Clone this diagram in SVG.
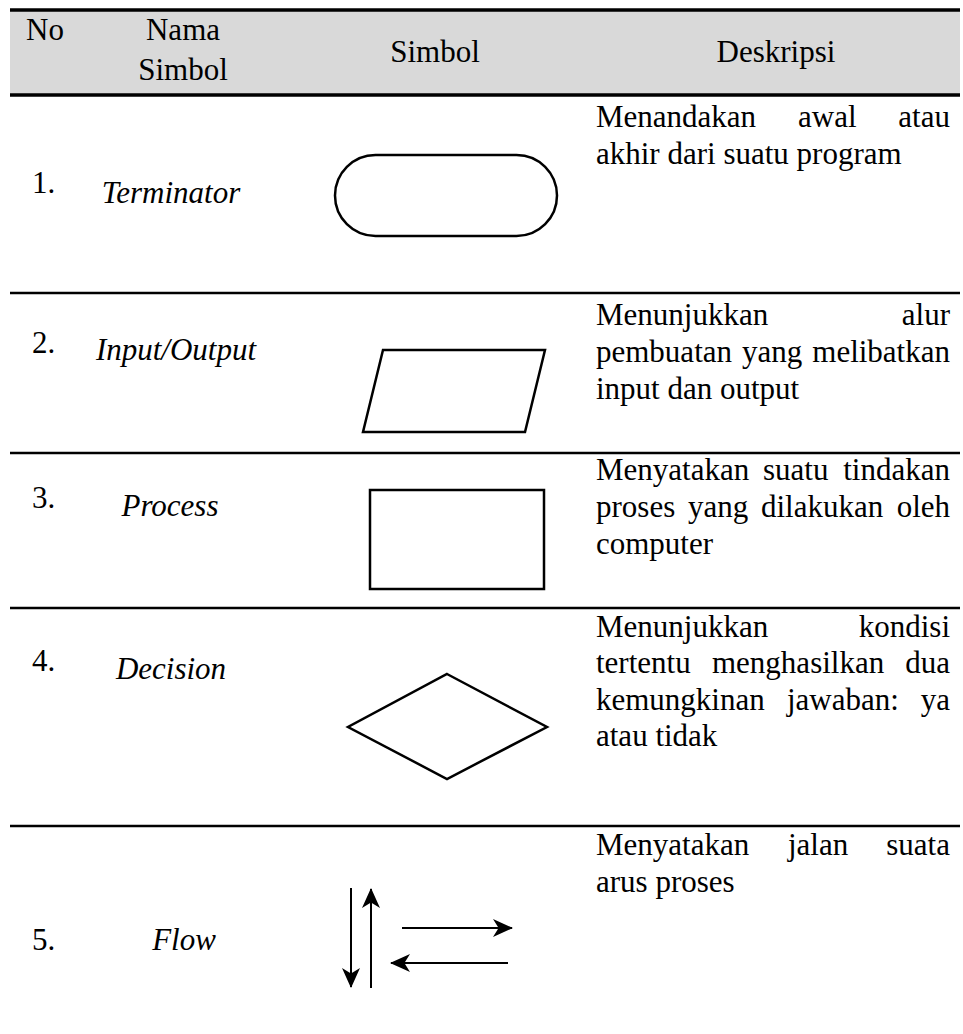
<svg xmlns="http://www.w3.org/2000/svg" width="963" height="1034" viewBox="0 0 963 1034">
<style>
text{font-family:"Liberation Serif","Times New Roman",serif;font-size:31px;fill:#000}
.i{font-style:italic}
.m{text-anchor:middle}
.e{text-anchor:end}
.sh{fill:#fff;stroke:#000;stroke-width:2.5}
.rule{stroke:#000;stroke-width:2.5}
.thick{stroke:#000;stroke-width:3.5}
.ar{stroke:#000;stroke-width:2}
</style>
<defs>
<marker id="ahv" viewBox="0 0 10 10" refX="9.5" refY="5" markerWidth="20" markerHeight="20" markerUnits="userSpaceOnUse" orient="auto">
<path d="M0,0.5 L10,5 L0,9.5 L2.8,5 Z" fill="#000"/>
</marker>
</defs>
<g id="table">
<rect x="10" y="10" width="950" height="85" fill="#d9d9d9"/>
<line class="thick" x1="10" y1="10" x2="960" y2="10"/>
<line class="thick" x1="10" y1="95" x2="960" y2="95"/>
<line class="rule" x1="10" y1="293" x2="960" y2="293"/>
<line class="rule" x1="10" y1="453" x2="960" y2="453"/>
<line class="rule" x1="10" y1="608" x2="960" y2="608"/>
<line class="rule" x1="10" y1="826" x2="960" y2="826"/>
</g>
<g id="header">
<text x="26" y="40">No</text>
<text class="m" x="183" y="40">Nama</text>
<text class="m" x="183" y="80">Simbol</text>
<text class="m" x="435" y="62">Simbol</text>
<text class="m" x="776" y="62">Deskripsi</text>
</g>
<g id="row1">
<text x="32" y="193">1.</text>
<text class="i m" x="171" y="203">Terminator</text>
<rect id="terminator" class="sh" x="335" y="155" width="222" height="81" rx="40.5" ry="40.5"/>
<text x="596" y="127">Menandakan</text><text x="798" y="127">awal</text><text class="e" x="950" y="127">atau</text>
<text x="596" y="164">akhir dari suatu program</text>
</g>
<g id="row2">
<text x="32" y="353">2.</text>
<text class="i m" x="176" y="360">Input/Output</text>
<polygon id="io" class="sh" points="383,350 545,350 525,432 363,432"/>
<text x="596" y="325">Menunjukkan</text><text class="e" x="950" y="325">alur</text>
<text x="596" y="362">pembuatan</text><text x="742" y="362">yang</text><text class="e" x="950" y="362">melibatkan</text>
<text x="596" y="399">input dan output</text>
</g>
<g id="row3">
<text x="32" y="508">3.</text>
<text class="i m" x="170" y="516">Process</text>
<rect id="process" class="sh" x="370" y="490" width="174" height="99"/>
<text x="596" y="480">Menyatakan</text><text x="763" y="480">suatu</text><text class="e" x="950" y="480">tindakan</text>
<text x="596" y="517">proses</text><text x="688" y="517">yang</text><text x="761" y="517">dilakukan</text><text class="e" x="950" y="517">oleh</text>
<text x="596" y="554">computer</text>
</g>
<g id="row4">
<text x="32" y="671">4.</text>
<text class="i m" x="171" y="679">Decision</text>
<polygon id="decision" class="sh" points="447,674 547,727 447,779 348,727"/>
<text x="596" y="637">Menunjukkan</text><text class="e" x="950" y="637">kondisi</text>
<text x="596" y="673">tertentu</text><text x="712" y="673">menghasilkan</text><text class="e" x="950" y="673">dua</text>
<text x="596" y="710">kemungkinan</text><text x="787" y="710">jawaban:</text><text class="e" x="950" y="710">ya</text>
<text x="596" y="746">atau tidak</text>
</g>
<g id="row5">
<text x="32" y="950">5.</text>
<text class="i m" x="184" y="950">Flow</text>
<text x="596" y="855">Menyatakan</text><text x="788" y="855">jalan</text><text class="e" x="950" y="855">suata</text>
<text x="596" y="892">arus proses</text>
</g>
<g id="connectors">
<line class="ar" x1="351" y1="888" x2="351" y2="987" marker-end="url(#ahv)"/>
<line class="ar" x1="371" y1="988" x2="371" y2="889" marker-end="url(#ahv)"/>
<line class="ar" x1="402" y1="928" x2="512" y2="928" marker-end="url(#ahv)"/>
<line class="ar" x1="508" y1="963" x2="391" y2="963" marker-end="url(#ahv)"/>
</g>
</svg>
